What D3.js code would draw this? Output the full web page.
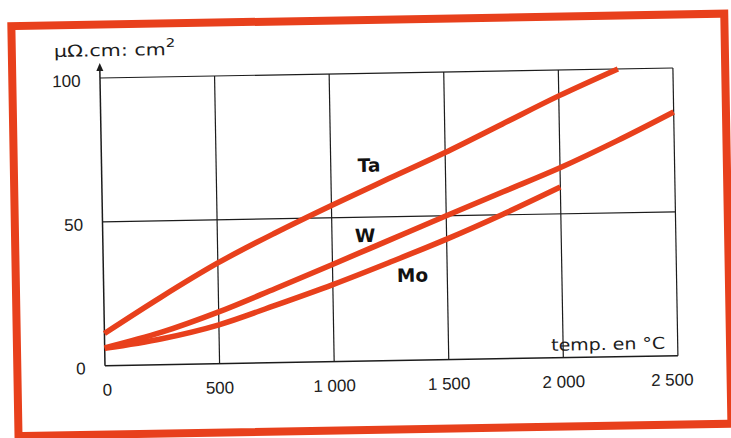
<!DOCTYPE html>
<html><head><meta charset="utf-8">
<script src="https://cdn.jsdelivr.net/npm/d3@7"></script>
<style>html,body{margin:0;padding:0;background:#fff;}</style>
</head><body>
<svg id="chart" width="731" height="438"></svg>
<script>
// ---- data ----
const xTicks = [0, 500, 1000, 1500, 2000, 2500];
const xTickLabels = ["0", "500", "1 000", "1 500", "2 000", "2 500"];
const yTicks = [0, 50, 100];
const yTickLabels = ["0", "50", "100"];

const taTemp = [0, 250, 500, 750, 1000, 1250, 1500, 1750, 2000, 2260];
const taVal  = [11.2, 23.5, 35, 45, 54.3, 63.2, 72, 81.5, 91, 100];

const wTemp = [0, 250, 500, 750, 1000, 1250, 1500, 1750, 2000, 2250, 2500];
const wVal  = [6.2, 11.3, 18, 25.8, 33.8, 41.9, 50, 58, 66, 75, 84.7];

const moTemp = [0, 250, 500, 750, 1000, 1250, 1500, 1750, 2000];
const moVal  = [6, 9, 13.5, 20, 26.8, 34.2, 41.9, 50.3, 59.3];

const seriesNames = ["Ta", "W", "Mo"];
const labelTemp = [1167, 1144, 1348];
const labelVal  = [65.8, 41.4, 27.3];

const yTitle = "μΩ.cm: cm";
const xTitle = "temp. en °C";

// ---- drawing ----
const RED = "#e8401c";
const INK = "#1c1c1c";
const svg = d3.select("#chart");
const g = svg.append("g").attr("transform", "rotate(-1, 370, 220)");

// frame
g.append("rect").attr("x", 14.8).attr("y", 19.9).attr("width", 713).attr("height", 410)
  .attr("fill", "#fff").attr("stroke", RED).attr("stroke-width", 8);

const x = d3.scaleLinear().domain([0, 2500]).range([102.5, 675.5]);
const y = d3.scaleLinear().domain([0, 100]).range([361, 73.3]);

// grid
g.selectAll("line.v").data(xTicks.slice(1)).join("line").attr("class", "v")
  .attr("x1", d => x(d)).attr("x2", d => x(d)).attr("y1", y(0)).attr("y2", y(100))
  .attr("stroke", INK).attr("stroke-width", 1.2);
g.selectAll("line.h").data(yTicks.slice(1)).join("line").attr("class", "h")
  .attr("x1", x(0)).attr("x2", x(2500)).attr("y1", d => y(d)).attr("y2", d => y(d))
  .attr("stroke", INK).attr("stroke-width", 1.2);

// axes
g.append("line").attr("x1", x(0)).attr("x2", x(2500)).attr("y1", y(0)).attr("y2", y(0))
  .attr("stroke", INK).attr("stroke-width", 1.5);
g.append("line").attr("x1", x(0)).attr("x2", x(0)).attr("y1", y(0)).attr("y2", y(100) - 10)
  .attr("stroke", INK).attr("stroke-width", 1.5);
g.append("path")
  .attr("d", `M${x(0)},${y(100) - 15} L${x(0) - 3.5},${y(100) - 7} L${x(0) + 3.5},${y(100) - 7} Z`)
  .attr("fill", INK);

// tick labels
g.selectAll("text.xt").data(xTicks).join("text").attr("class", "xt")
  .attr("x", (d, i) => x(d) + (i === 0 ? 2 : 0) + (i === xTicks.length - 1 ? -6 : 0))
  .attr("y", y(0) + 24).attr("dy", "0.35em")
  .attr("text-anchor", "middle")
  .attr("font-family", "Liberation Sans, Arial, sans-serif").attr("font-size", 17)
  .attr("fill", INK)
  .text((d, i) => xTickLabels[i]);

g.selectAll("text.yt").data(yTicks).join("text").attr("class", "yt")
  .attr("x", 83).attr("y", d => y(d) + 2.5).attr("dy", "0.35em")
  .attr("text-anchor", "end")
  .attr("font-family", "Liberation Sans, Arial, sans-serif").attr("font-size", 17)
  .attr("fill", INK)
  .text((d, i) => yTickLabels[i]);

// axis titles (wide, extended-looking lettering)
const yt = g.append("g").attr("transform", "translate(57,51.5) scale(1.25,1)")
  .append("text").attr("x", 0).attr("y", 0)
  .attr("font-family", "DejaVu Sans, sans-serif").attr("font-size", 16.5).attr("fill", INK);
yt.append("tspan").text(yTitle);
yt.append("tspan").attr("dy", -8).attr("font-size", 12).text("2");

g.append("g").attr("transform", "translate(663,354) scale(1.15,1)")
  .append("text").attr("x", 0).attr("y", 0).attr("text-anchor", "end")
  .attr("font-family", "DejaVu Sans, sans-serif").attr("font-size", 16.5).attr("fill", INK)
  .text(xTitle);

// curves
const line = d3.line().x(d => x(d[0])).y(d => y(d[1])).curve(d3.curveCatmullRom.alpha(0.5));
const series = [
  d3.zip(taTemp, taVal),
  d3.zip(wTemp, wVal),
  d3.zip(moTemp, moVal)
];
g.selectAll("path.curve").data(series).join("path").attr("class", "curve")
  .attr("d", line).attr("fill", "none").attr("stroke", RED)
  .attr("stroke-width", 5.5).attr("stroke-linecap", "butt");

// series labels
g.selectAll("text.lab").data(seriesNames).join("text").attr("class", "lab")
  .attr("x", (d, i) => x(labelTemp[i])).attr("y", (d, i) => y(labelVal[i]))
  .attr("text-anchor", "middle")
  .attr("font-family", "DejaVu Sans, sans-serif").attr("font-weight", "bold")
  .attr("font-size", 18.5).attr("fill", "#111")
  .text(d => d);
</script>
</body></html>
